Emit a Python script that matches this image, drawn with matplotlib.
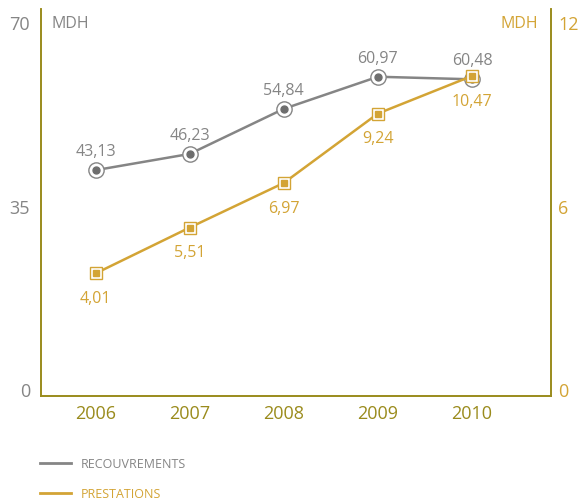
import matplotlib.pyplot as plt

plt.rcParams['font.family'] = ['Open Sans', 'DejaVu Sans']

annees = ['2006', '2007', '2008', '2009', '2010']
recouvrements = [43.13, 46.23, 54.84, 60.97, 60.48]
prestations = [4.01, 5.51, 6.97, 9.24, 10.47]
ticks_gauche = [0, 35, 70]
ticks_droite = [0, 6, 12]

gris = '#858585'
gris_fonce = '#6e6e6e'
or_ = '#d3a435'
olive = '#9a8b1c'

fig = plt.figure(figsize=(5.79, 5.02), dpi=100)
ax = fig.add_axes([0.0708, 0.2092, 0.8809, 0.7708])
ax2 = ax.twinx()

x = list(range(len(annees)))

# recouvrements (axe gauche)
ax.plot(x, recouvrements, color=gris, lw=1.8, zorder=2)
ax.plot(x, recouvrements, 'o', ms=11, mfc='white', mec=gris, mew=1.0, zorder=3)
ax.plot(x, recouvrements, 'o', ms=5, color=gris_fonce, zorder=4)
for xi, v in zip(x, recouvrements):
    ax.annotate(f'{v:.2f}'.replace('.', ','), (xi, v), xytext=(0, 8),
                textcoords='offset points', ha='center', va='bottom',
                color=gris, fontsize=11.5)

# prestations (axe droit)
ax2.plot(x, prestations, color=or_, lw=1.8, zorder=2)
ax2.plot(x, prestations, 's', ms=9, mfc='white', mec=or_, mew=1.0, zorder=3)
ax2.plot(x, prestations, 's', ms=5, color=or_, zorder=4)
for xi, v in zip(x, prestations):
    ax2.annotate(f'{v:.2f}'.replace('.', ','), (xi, v), xytext=(0, -12),
                 textcoords='offset points', ha='center', va='top',
                 color=or_, fontsize=11.5)

ax.set_xlim(-0.58, 4.84)
ax.set_ylim(0, 73.9)
ax2.set_ylim(0, 12.66)

ax.set_xticks(x)
ax.set_xticklabels(annees)
ax.set_yticks(ticks_gauche)
ax2.set_yticks(ticks_droite)

ax.tick_params(axis='x', length=0, pad=6, labelsize=13, labelcolor=olive)
ax.tick_params(axis='y', length=0, pad=8, labelsize=13, labelcolor=gris)
ax2.tick_params(axis='y', length=0, pad=5, labelsize=13, labelcolor=or_)
for lbl in ax.get_yticklabels() + ax2.get_yticklabels():
    lbl.set_verticalalignment('baseline')

for a in (ax, ax2):
    a.spines['top'].set_visible(False)
    for s in ('left', 'right', 'bottom'):
        a.spines[s].set_color(olive)
        a.spines[s].set_linewidth(1.2)

ax.text(0.02, 0.965, 'MDH', transform=ax.transAxes, ha='left', va='center',
        color=gris, fontsize=11.5)
ax2.text(0.975, 0.965, 'MDH', transform=ax2.transAxes, ha='right', va='center',
         color=or_, fontsize=11.5)

# légende
h1, = fig.gca().plot([], [], color=gris, lw=2)
h2, = fig.gca().plot([], [], color=or_, lw=2)
leg = fig.legend([h1, h2], ['RECOUVREMENTS', 'PRESTATIONS'], loc='upper left',
                 bbox_to_anchor=(0.06, 0.097), frameon=False, fontsize=9,
                 handlelength=2.5, labelspacing=1.35, borderaxespad=0)
leg.get_texts()[0].set_color(gris)
leg.get_texts()[1].set_color(or_)

fig.savefig('out.png', dpi=100)
